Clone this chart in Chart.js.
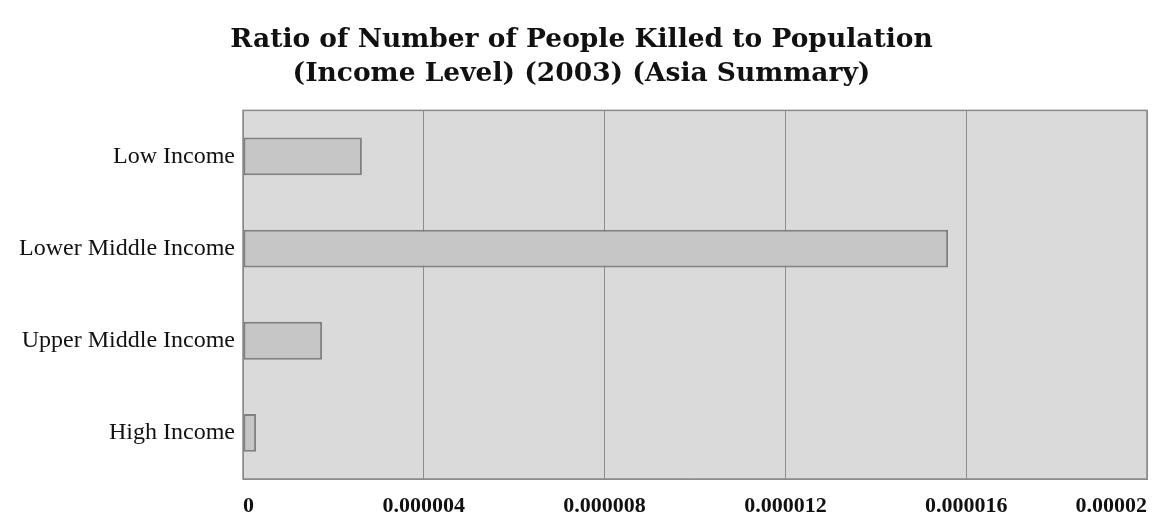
<!DOCTYPE html>
<html>
<head>
<meta charset="utf-8">
<script src="https://cdn.jsdelivr.net/npm/chart.js@4/dist/chart.umd.min.js"></script>
<style>
  html, body { margin: 0; padding: 0; background: #fff; }
  #wrap { width: 1153px; height: 529px; }
</style>
</head>
<body>
<div id="wrap"><canvas id="chart"></canvas></div>
<script>
var titleLines = ['Ratio of Number of People Killed to Population', '(Income Level) (2003) (Asia Summary)'];
var categories = ['Low Income', 'Lower Middle Income', 'Upper Middle Income', 'High Income'];
var ratios = [0.00000263, 0.0000156, 0.00000175, 0.00000029];
var tickLabels = ['0', '0.000004', '0.000008', '0.000012', '0.000016', '0.00002'];

// grey plot area with a frame round it
var plotFrame = {
    id: 'plotFrame',
    beforeDraw: function (chart) {
        var a = chart.chartArea, ctx = chart.ctx;
        ctx.save();
        ctx.fillStyle = '#dadada';
        ctx.fillRect(a.left, a.top, a.right - a.left, a.bottom - a.top);
        ctx.restore();
    },
    afterDraw: function (chart) {
        var a = chart.chartArea, ctx = chart.ctx;
        ctx.save();
        ctx.strokeStyle = '#8a8a8a';
        ctx.lineWidth = 1.5;
        ctx.strokeRect(a.left, a.top, a.right - a.left, a.bottom - a.top);
        ctx.restore();
    }
};

new Chart(document.getElementById('chart'), {
    type: 'bar',
    data: {
        labels: categories,
        datasets: [{
            data: ratios,
            backgroundColor: '#c6c6c6',
            borderColor: '#808080',
            borderWidth: 2,
            borderSkipped: false,
            categoryPercentage: 1,
            barPercentage: 0.41
        }]
    },
    options: {
        indexAxis: 'y',
        responsive: true,
        maintainAspectRatio: false,
        animation: false,
        layout: { autoPadding: false, padding: { top: 13, right: 6, bottom: 0, left: 16 } },
        plugins: {
            legend: { display: false },
            tooltip: { enabled: false },
            title: {
                display: true,
                text: titleLines,
                color: '#111',
                font: { family: 'DejaVu Serif', size: 26.5, weight: 'bold', lineHeight: 1.29 },
                padding: { top: 10, bottom: 19 }
            }
        },
        scales: {
            x: {
                min: 0,
                max: 0.00002,
                afterFit: function (scale) { scale.height = 50; },
                ticks: {
                    stepSize: 0.000004,
                    align: 'inner',
                    padding: 0,
                    color: '#111',
                    font: { family: 'Liberation Serif', size: 22, weight: 'bold' },
                    callback: function (v, i) { return tickLabels[i]; }
                },
                grid: { color: '#8c8c8c', lineWidth: 1, drawTicks: true, tickLength: 14, tickColor: 'rgba(0,0,0,0)' },
                border: { color: '#8a8a8a' }
            },
            y: {
                afterFit: function (scale) { scale.width = 227; },
                ticks: {
                    padding: 0,
                    color: '#111',
                    font: { family: 'Liberation Serif', size: 24 }
                },
                grid: { display: false },
                border: { color: '#8a8a8a' }
            }
        }
    },
    plugins: [plotFrame]
});
</script>
</body>
</html>
